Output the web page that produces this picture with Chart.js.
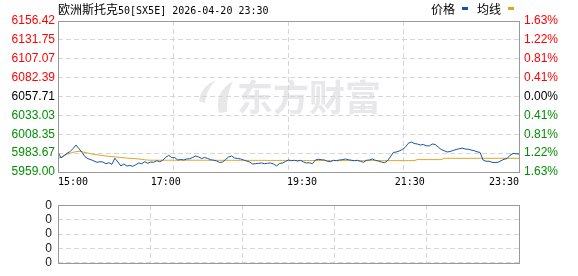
<!DOCTYPE html>
<html>
<head>
<meta charset="utf-8">
<script src="https://cdn.jsdelivr.net/npm/chart.js@4.4.1/dist/chart.umd.min.js"></script>
<style>
  html, body { margin: 0; padding: 0; background: #fff; }
  #wrap { position: relative; width: 578px; height: 276px; overflow: hidden; }
  canvas { position: absolute; left: 0; }
  .txt { position: absolute; top: 2px; line-height: 14px; white-space: nowrap; color: #000; }
  .cjk { font-family: "Noto Sans CJK SC", sans-serif; font-size: 12px; }
  .mono { font-family: "DejaVu Sans Mono", monospace; font-size: 10px; }
  .mark { position: absolute; top: 7px; width: 6px; height: 3px; }
</style>
</head>
<body>
<div id="wrap">
  <canvas id="priceChart" width="578" height="192" style="top:0"></canvas>
  <canvas id="volChart" width="578" height="84" style="top:192px"></canvas>
  <div class="txt" style="left:58px"><span class="cjk">欧洲斯托克</span><span class="mono">50[SX5E] 2026-04-20 23:30</span></div>
  <div class="txt cjk" style="left:431px">价格</div>
  <div class="mark" style="left:462px;background:#1255a5"></div>
  <div class="txt cjk" style="left:477px">均线</div>
  <div class="mark" style="left:508px;background:#e0a422"></div>
</div>
<script>
// intraday data, one sample every few minutes
const price = [
  5985.16, 5977.31, 5980.32, 5983.46, 5985.55, 5989.47, 5994.31, 5989.47, 5984.76, 5979.01,
  5976.40, 5975.09, 5973.39, 5971.69, 5972.47, 5972.08, 5969.86, 5971.17, 5969.07, 5976.92,
  5972.08, 5966.85, 5969.47, 5966.85, 5967.51, 5966.46, 5968.55, 5970.77, 5969.86, 5972.47,
  5970.38, 5972.08, 5971.69, 5973.78, 5972.47, 5974.30, 5978.23, 5980.84, 5977.70, 5977.90,
  5974.70, 5975.35, 5974.70, 5976.00, 5976.40, 5977.96, 5979.93, 5978.62, 5976.66, 5977.96,
  5976.66, 5975.09, 5974.44, 5973.39, 5971.43, 5972.08, 5975.35, 5978.62, 5979.93, 5977.31,
  5976.66, 5976.00, 5974.70, 5973.39, 5972.08, 5969.47, 5969.86, 5970.38, 5970.77, 5969.86,
  5970.38, 5970.77, 5969.47, 5966.85, 5970.12, 5970.77, 5972.73, 5974.70, 5973.78, 5974.30,
  5973.39, 5974.30, 5972.08, 5970.77, 5971.17, 5969.86, 5974.70, 5975.61, 5975.09, 5974.70,
  5973.00, 5972.47, 5974.30, 5973.78, 5974.70, 5975.09, 5976.00, 5975.09, 5974.30, 5973.78,
  5974.30, 5973.00, 5971.69, 5974.30, 5974.70, 5976.00, 5974.30, 5973.39, 5972.08, 5971.17,
  5973.39, 5978.62, 5984.50, 5985.16, 5986.46, 5988.42, 5991.30, 5996.53, 5998.23, 5996.27,
  5995.61, 5994.31, 5994.96, 5993.39, 5993.00, 5995.61, 5994.96, 5991.69, 5988.42, 5986.85,
  5985.16, 5985.81, 5987.12, 5988.42, 5989.34, 5990.12, 5989.08, 5988.69, 5987.77, 5986.85,
  5985.42, 5984.50, 5974.70, 5973.00, 5973.13, 5971.69, 5971.43, 5971.69, 5973.78, 5975.61,
  5976.66, 5980.84, 5983.19, 5982.93, 5982.54
];
const avgLine = [
  5976.92, 5978.23, 5980.32, 5982.15, 5983.46, 5984.76, 5985.55, 5986.07, 5985.55, 5984.50,
  5983.85, 5982.80, 5982.02, 5981.49, 5980.97, 5980.45, 5979.93, 5979.53, 5979.14, 5978.75,
  5978.36, 5977.96, 5977.57, 5977.18, 5976.92, 5976.66, 5976.40, 5976.00, 5975.48, 5974.96,
  5974.60, 5974.40, 5974.40, 5974.40, 5974.40, 5974.40, 5974.40, 5974.40, 5974.40, 5974.40,
  5974.40, 5974.40, 5974.40, 5974.40, 5974.40, 5974.40, 5974.40, 5974.40, 5974.40, 5974.40,
  5974.30, 5974.30, 5974.30, 5974.30, 5974.30, 5974.30, 5974.30, 5974.30, 5974.30, 5974.30,
  5974.20, 5974.20, 5974.20, 5974.20, 5974.20, 5974.20, 5974.20, 5974.20, 5974.20, 5974.20,
  5974.10, 5974.10, 5974.10, 5974.10, 5974.10, 5974.10, 5974.10, 5974.10, 5974.10, 5974.10,
  5974.00, 5974.00, 5974.00, 5974.00, 5974.00, 5974.00, 5974.00, 5974.00, 5974.00, 5974.00,
  5973.90, 5973.90, 5973.90, 5973.90, 5973.90, 5973.90, 5973.90, 5973.90, 5973.90, 5973.90,
  5973.90, 5973.90, 5973.90, 5973.90, 5973.90, 5973.90, 5973.90, 5973.90, 5973.90, 5973.90,
  5973.90, 5973.90, 5973.90, 5973.90, 5973.90, 5973.90, 5973.90, 5973.90, 5973.90, 5973.90,
  5975.22, 5975.22, 5975.22, 5975.22, 5975.22, 5975.22, 5975.22, 5975.22, 5975.22, 5976.92,
  5976.92, 5976.92, 5976.92, 5976.92, 5976.92, 5976.92, 5976.92, 5976.92, 5976.92, 5976.92,
  5976.92, 5976.92, 5976.92, 5976.92, 5976.92, 5976.92, 5976.92, 5976.92, 5976.92, 5976.92,
  5976.92, 5976.92, 5976.92, 5976.92, 5976.92
];
const volume = [];

// axes
const prevClose = 6057.71;
const priceTicks = [6156.42, 6131.75, 6107.07, 6082.39, 6057.71, 6033.03, 6008.35, 5983.67, 5959.00];
const pctTicks = ['1.63', '1.22', '0.81', '0.41', '0.00', '0.41', '0.81', '1.22', '1.63'];
const volTicks = ['0', '0', '0', '0', '0'];
const timeLabels = ['15:00', '17:00', '19:30', '21:30', '23:30'];
const timeTickAt = [0, 36, 81.5, 117.5, 154];

const RED = '#ff0000', GREEN = '#009000';
const GRID = '#d6d6d6';
const lastIdx = price.length - 1;

const tickColor = (c) => {
  const v = priceTicks[c.index];
  if (v > prevClose) return RED;
  if (v < prevClose) return GREEN;
  return '#000';
};

const frame = {
  id: 'frame',
  afterDraw(chart) {
    const { ctx, chartArea: a } = chart;
    ctx.save();
    ctx.strokeStyle = '#999';
    ctx.lineWidth = 1;
    ctx.strokeRect(Math.round(a.left) + 0.5, Math.round(a.top) + 0.5,
      Math.round(a.right - a.left), Math.round(a.bottom - a.top));
    ctx.restore();
  }
};

const watermark = {
  id: 'watermark',
  beforeDraw(chart) {
    const ctx = chart.ctx;
    ctx.save();
    ctx.fillStyle = '#e8e8eb';
    ctx.font = 'bold 36px "Noto Sans CJK SC"';
    ctx.textBaseline = 'middle';
    ctx.fillText('东方财富', 237, 97);
    // little flame logo
    ctx.beginPath();
    ctx.moveTo(199, 101);
    ctx.quadraticCurveTo(201, 86, 216, 80);
    ctx.quadraticCurveTo(206, 90, 205, 103);
    ctx.closePath();
    ctx.fill();
    ctx.beginPath();
    ctx.moveTo(219, 113);
    ctx.quadraticCurveTo(214, 92, 233, 81);
    ctx.quadraticCurveTo(226, 96, 227, 112);
    ctx.closePath();
    ctx.fill();
    ctx.restore();
  }
};

const quarterGrid = (scale) => {
  scale.ticks = [0, 1, 2, 3, 4].map(k => ({ value: k * lastIdx / 4 }));
};

new Chart(document.getElementById('priceChart'), {
  type: 'line',
  data: {
    datasets: [
      {
        data: price.map((v, i) => ({ x: i, y: v })),
        borderColor: '#1255a5',
        borderWidth: 1,
        pointRadius: 0,
        order: 1
      },
      {
        data: avgLine.map((v, i) => ({ x: i, y: v })),
        borderColor: '#e0a422',
        borderWidth: 1,
        pointRadius: 0,
        order: 2
      }
    ]
  },
  options: {
    responsive: false,
    animation: false,
    layout: { padding: { top: 21, left: 0, right: 0, bottom: 0 } },
    plugins: { legend: { display: false }, tooltip: { enabled: false } },
    scales: {
      x: {
        type: 'linear',
        position: 'bottom',
        min: 0,
        max: lastIdx,
        afterBuildTicks: (s) => { s.ticks = timeTickAt.map(v => ({ value: v })); },
        afterFit: (s) => { s.height = 20; },
        grid: { display: false, drawTicks: false },
        border: { display: false },
        ticks: {
          autoSkip: false,
          maxRotation: 0,
          align: 'inner',
          padding: 4,
          color: '#000',
          font: { family: '"DejaVu Sans Mono", monospace', size: 10 },
          callback: (v, i) => timeLabels[i]
        }
      },
      xg: {
        type: 'linear',
        position: 'top',
        min: 0,
        max: lastIdx,
        afterBuildTicks: quarterGrid,
        afterFit: (s) => { s.height = 0; },
        grid: { color: GRID, drawTicks: false },
        border: { display: false, dash: [5, 3] },
        ticks: { display: false }
      },
      y: {
        type: 'linear',
        position: 'left',
        min: 5959.00,
        max: 6156.42,
        afterBuildTicks: (s) => { s.ticks = priceTicks.map(v => ({ value: v })); },
        afterFit: (s) => { s.width = 58; },
        grid: { color: GRID, drawTicks: false },
        border: { display: false, dash: [5, 3] },
        ticks: {
          autoSkip: false,
          padding: 3,
          color: tickColor,
          font: { family: '"Liberation Sans", Arial', size: 12 },
          callback: (v, i) => priceTicks[i].toFixed(2)
        }
      },
      y2: {
        type: 'linear',
        position: 'right',
        min: 5959.00,
        max: 6156.42,
        afterBuildTicks: (s) => { s.ticks = priceTicks.map(v => ({ value: v })); },
        afterFit: (s) => { s.width = 59; },
        grid: { display: false, drawTicks: false },
        border: { display: false },
        ticks: {
          autoSkip: false,
          padding: 5,
          color: tickColor,
          font: { family: '"Liberation Sans", Arial', size: 12 },
          callback: (v, i) => pctTicks[i] + '%'
        }
      }
    }
  },
  plugins: [watermark, frame]
});

new Chart(document.getElementById('volChart'), {
  type: 'bar',
  data: {
    datasets: [{ data: volume, backgroundColor: '#1255a5', xAxisID: 'xg', yAxisID: 'yv' }]
  },
  options: {
    responsive: false,
    animation: false,
    layout: { padding: { top: 5, left: 0, right: 59, bottom: 6 } },
    plugins: { legend: { display: false }, tooltip: { enabled: false } },
    scales: {
      xg: {
        type: 'linear',
        position: 'top',
        min: 0,
        max: lastIdx,
        afterBuildTicks: quarterGrid,
        afterFit: (s) => { s.height = 0; },
        grid: { color: GRID, drawTicks: false },
        border: { display: false, dash: [5, 3] },
        ticks: { display: false }
      },
      yv: {
        type: 'linear',
        position: 'left',
        min: 0,
        max: 4,
        afterBuildTicks: (s) => { s.ticks = volTicks.map((t, k) => ({ value: k })); },
        afterFit: (s) => { s.width = 58; },
        grid: { color: GRID, drawTicks: false },
        border: { display: false, dash: [5, 3] },
        ticks: {
          autoSkip: false,
          padding: 6,
          color: '#1a1a1a',
          font: { family: '"Liberation Sans", Arial', size: 12 },
          callback: (v, i) => volTicks[i]
        }
      }
    }
  },
  plugins: [frame]
});
</script>
</body>
</html>
